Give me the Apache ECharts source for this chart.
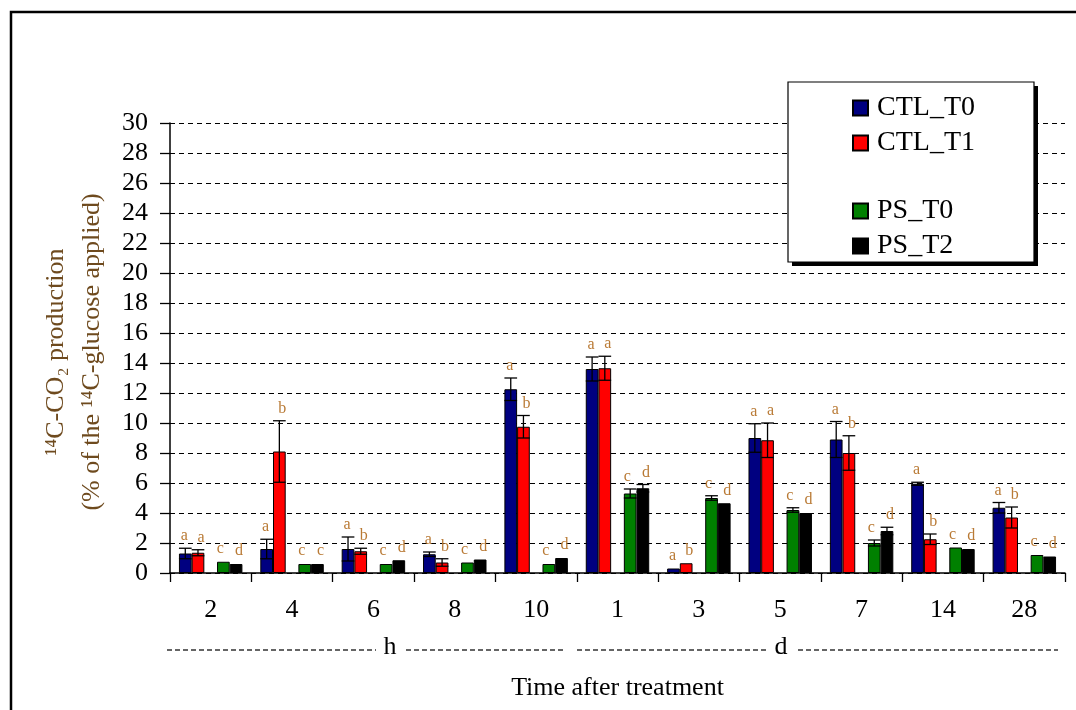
<!DOCTYPE html>
<html>
<head>
<meta charset="utf-8">
<script src="https://cdn.jsdelivr.net/npm/echarts@6/dist/echarts.min.js"></script>
<style>
  html, body { margin: 0; padding: 0; background: #fff; }
  #main { width: 1076px; height: 710px; }
</style>
</head>
<body>
<div id="main"></div>
<script>
// time after treatment (first five in hours, rest in days)
var categories = ['2', '4', '6', '8', '10', '1', '3', '5', '7', '14', '28'];

var ctlT0    = [1.3, 1.6, 1.6, 1.25, 12.25, 13.6, 0.3, 9.0, 8.9, 5.95, 4.35];
var ctlT0Err = [0.35, 0.65, 0.8, 0.15, 0.75, 0.8, 0.05, 0.95, 1.2, 0.1, 0.35];
var ctlT1    = [1.35, 8.1, 1.45, 0.7, 9.75, 13.65, 0.65, 8.85, 8.0, 2.25, 3.7];
var ctlT1Err = [0.2, 2.05, 0.2, 0.25, 0.75, 0.8, 0.05, 1.15, 1.15, 0.35, 0.7];
var psT0     = [0.75, 0.6, 0.6, 0.7, 0.6, 5.3, 5.0, 4.2, 2.0, 1.7, 1.2];
var psT0Err  = [0.05, 0.05, 0.05, 0.05, 0.05, 0.3, 0.15, 0.15, 0.2, 0.05, 0.05];
var psT2     = [0.6, 0.6, 0.85, 0.9, 1.0, 5.65, 4.65, 4.0, 2.8, 1.6, 1.1];
var psT2Err  = [0.05, 0.05, 0.05, 0.05, 0.05, 0.25, 0.05, 0.05, 0.25, 0.05, 0.05];

var ctlT0Let = ['a', 'a', 'a', 'a', 'a', 'a', 'a', 'a', 'a', 'a', 'a'];
var ctlT1Let = ['a', 'b', 'b', 'b', 'b', 'a', 'b', 'a', 'b', 'b', 'b'];
var psT0Let  = ['c', 'c', 'c', 'c', 'c', 'c', 'c', 'c', 'c', 'c', 'c'];
var psT2Let  = ['d', 'c', 'd', 'd', 'd', 'd', 'd', 'd', 'd', 'd', 'd'];

var yTicks = { min: 0, max: 30, interval: 2 };

var FONT = 'Liberation Serif';
var GAP = 0.22;   // barCategoryGap
var SLOTS = 5;    // 4 bars + one empty slot
var letterColor = '#b97a35';

var chart = echarts.init(document.getElementById('main'));

function errData(vals, errs, lets) {
    return vals.map(function (v, i) { return [i, v, errs[i], lets[i]]; });
}

function errSeries(name, slot, vals, errs, lets, dx) {
    return {
        type: 'custom',
        name: name + '_err',
        z: 5,
        data: errData(vals, errs, lets),
        encode: { x: 0, y: 1 },
        renderItem: function (params, api) {
            var i = api.value(0), v = api.value(1), e = api.value(2);
            var band = api.size([1, 0])[0];
            var barW = band * (1 - GAP) / SLOTS;
            var c = api.coord([i, v]);
            var x = c[0] + (slot - 2) * barW;
            var top = api.coord([i, v + e])[1];
            var bot = api.coord([i, v - e])[1];
            var cap = barW * 0.5;
            var st = { stroke: '#000', lineWidth: 1.3 };
            var kids = [];
            if (e > 0.08) {
                kids.push({ type: 'line', shape: { x1: x, y1: top, x2: x, y2: bot }, style: st });
                kids.push({ type: 'line', shape: { x1: x - cap, y1: top, x2: x + cap, y2: top }, style: st });
                kids.push({ type: 'line', shape: { x1: x - cap, y1: bot, x2: x + cap, y2: bot }, style: st });
            }
            kids.push({
                type: 'text',
                style: {
                    x: x + dx, y: top - 4,
                    text: api.value(3),
                    align: 'center', verticalAlign: 'bottom',
                    fill: letterColor,
                    font: '16px "' + FONT + '"'
                }
            });
            return { type: 'group', children: kids };
        }
    };
}

function barSeries(name, color, vals) {
    return {
        name: name,
        type: 'bar',
        data: vals,
        barGap: '0%',
        barCategoryGap: (GAP * 100) + '%',
        itemStyle: { color: color, borderColor: '#000', borderWidth: 1 }
    };
}

var legendText = { fontFamily: FONT, fontSize: 28, color: '#000', padding: [0, 0, 0, 4] };

var option = {
    animation: false,
    backgroundColor: '#fff',
    grid: { left: 170, right: 11, top: 123, bottom: 137, containLabel: false },
    legend: [
        {
            data: ['CTL_T0', 'CTL_T1'],
            orient: 'vertical', left: 847, top: 89,
            itemWidth: 15, itemHeight: 15, itemGap: 7,
            icon: 'rect', textStyle: legendText, selectedMode: false
        },
        {
            data: ['PS_T0', 'PS_T2'],
            orient: 'vertical', left: 847, top: 192,
            itemWidth: 15, itemHeight: 15, itemGap: 7,
            icon: 'rect', textStyle: legendText, selectedMode: false
        }
    ],
    xAxis: {
        type: 'category',
        data: categories,
        boundaryGap: true,
        axisLine: { lineStyle: { color: '#000', width: 1.5 } },
        axisTick: { show: true, length: 9, lineStyle: { color: '#000', width: 1.3 } },
        axisLabel: { margin: 24, fontFamily: FONT, fontSize: 26, color: '#000' },
        name: 'Time after treatment',
        nameLocation: 'middle',
        nameGap: 102,
        nameTextStyle: { fontFamily: FONT, fontSize: 26, color: '#000' }
    },
    yAxis: {
        type: 'value',
        min: yTicks.min, max: yTicks.max, interval: yTicks.interval,
        axisLine: { show: true, lineStyle: { color: '#000', width: 1.5 } },
        axisTick: { show: true, inside: false, length: 10, lineStyle: { color: '#000', width: 1.3 } },
        axisLabel: { margin: 22, fontFamily: FONT, fontSize: 26, color: '#000' },
        splitLine: { show: true, lineStyle: { color: '#000', type: [5, 4], width: 1.2 } }
    },
    graphic: [
        // outer frame
        { type: 'rect', z: 0, silent: true, shape: { x: 11, y: 12, width: 1100, height: 720 },
          style: { fill: 'none', stroke: '#000', lineWidth: 2.5 } },
        // legend box: shadow, then the box itself
        { type: 'rect', z: 3, silent: true, shape: { x: 792, y: 86, width: 246, height: 180 },
          style: { fill: '#000' } },
        { type: 'rect', z: 3, silent: true, shape: { x: 788, y: 82, width: 246, height: 180 },
          style: { fill: '#fff', stroke: '#000', lineWidth: 1.2 } },
        // y-axis title
        { type: 'text', z: 5, silent: true, x: 74, y: 352, rotation: Math.PI / 2,
          style: { text: '¹⁴C-CO₂ production\n(% of the ¹⁴C-glucose applied)',
                   align: 'center', verticalAlign: 'middle', lineHeight: 36,
                   font: '26px "' + FONT + '"', fill: '#6e4a1e' } },
        // h / d grouping under the axis labels
        { type: 'line', silent: true, shape: { x1: 167, y1: 650, x2: 376, y2: 650 },
          style: { stroke: '#333', lineWidth: 1.3, lineDash: [5, 3] } },
        { type: 'text', silent: true, x: 390, y: 647,
          style: { text: 'h', align: 'center', verticalAlign: 'middle', font: '26px "' + FONT + '"', fill: '#000' } },
        { type: 'line', silent: true, shape: { x1: 406, y1: 650, x2: 566, y2: 650 },
          style: { stroke: '#333', lineWidth: 1.3, lineDash: [5, 3] } },
        { type: 'line', silent: true, shape: { x1: 577, y1: 650, x2: 767, y2: 650 },
          style: { stroke: '#333', lineWidth: 1.3, lineDash: [5, 3] } },
        { type: 'text', silent: true, x: 781, y: 647,
          style: { text: 'd', align: 'center', verticalAlign: 'middle', font: '26px "' + FONT + '"', fill: '#000' } },
        { type: 'line', silent: true, shape: { x1: 798, y1: 650, x2: 1058, y2: 650 },
          style: { stroke: '#333', lineWidth: 1.3, lineDash: [5, 3] } }
    ],
    series: [
        barSeries('CTL_T0', '#000080', ctlT0),
        barSeries('CTL_T1', '#ff0000', ctlT1),
        barSeries('spacer', 'transparent', categories.map(function () { return '-'; })),
        barSeries('PS_T0', '#008000', psT0),
        barSeries('PS_T2', '#000000', psT2),
        errSeries('CTL_T0', 0, ctlT0, ctlT0Err, ctlT0Let, -1),
        errSeries('CTL_T1', 1, ctlT1, ctlT1Err, ctlT1Let, 3),
        errSeries('PS_T0', 3, psT0, psT0Err, psT0Let, -3),
        errSeries('PS_T2', 4, psT2, psT2Err, psT2Let, 3)
    ]
};

chart.setOption(option);
</script>
</body>
</html>
